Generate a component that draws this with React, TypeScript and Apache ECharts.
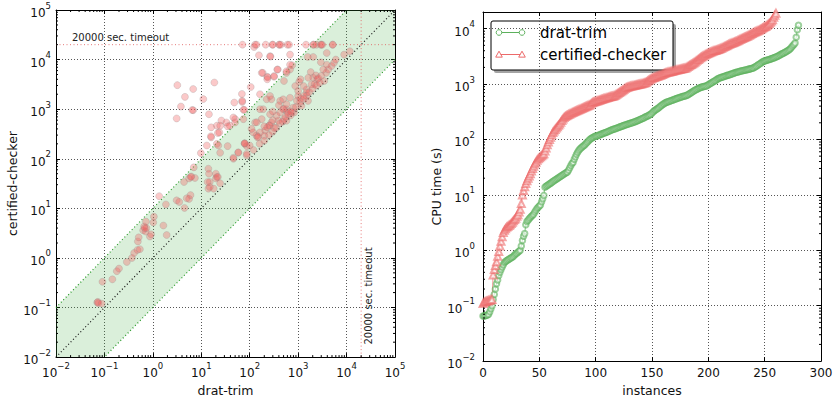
import React, { useEffect, useRef } from "react";
import * as echarts from "echarts";

const FONT = "DejaVu Sans";
const AXIS_MIN = 0.01;
const AXIS_MAX = 1e5;
const TIMEOUT = 20000;
const CACTUS_Y_MAX = 20000;
const CACTUS_X_MAX = 300;

// scatter: [drat-trim, certified-checker] seconds
const scatterPoints: [number, number][] = [
  [0.071,0.126],[0.073,0.13],[0.075,0.122],[0.088,0.12],[0.091,0.33],[0.146,0.37],[0.18,0.54],[0.2,0.61],[0.29,0.83],[0.37,1.0],
  [0.41,1.26],[0.48,1.45],[0.54,1.5],[0.49,2.15],[0.51,2.6],[0.87,2.7],[0.92,3.0],[0.63,3.6],[0.71,3.4],[0.74,4.0],
  [0.66,4.3],[0.68,4.0],[0.72,5.4],[1.02,5.2],[1.05,6.8],[1.65,4.5],[1.93,2.9],[1.35,17.6],[1.86,12],[3.1,14.5],
  [3.5,13.5],[5.6,15.5],[4.5,10.2],[4.4,34],[5.6,40],[6.2,44],[7.4,41],[7,67],[9.8,130],[14,63],
  [14.4,50],[15,34],[14,25],[18,25],[21,43],[20,40],[24.5,32],[16,270],[21,465],[6.8,955],
  [3.1,650],[14.4,790],[6,18.5],[5,16],
  [3.2,3050],[18.6,3450],[6.8,2550],[4.6,1770],[11,1600],[3.8,1130],[6.5,960],[26,590],[24.6,465],[23.6,340],
  [33,540],[39,465],[50,630],[21,200],[35,180],[24.5,132],[46,100],[58,132],[79,200],[87,180],
  [20,50],[22,43],[13.5,34],[15,27],[6.1,43],[16,430],[35,450],[46,680],[13,185],[22.5,185],
  [15.8,284],[22,330],[78,205],[87,117],[87,126],
  [105,2800],[69,2030],[48,1360],[70,1400],[74,970],[77,970],[186,5400],[163,2000],[70,1470],
  [123,17900],[155,12200],[263,11700],[268,11500],[680,12600],[755,7700],[680,6300],[575,5400],[380,6300],[318,4500],
  [230,4500],[235,4400],[177,5400],[230,4000],[510,3700],[1050,3560],[1120,4000],[1300,2930],[1500,2500],[1500,2150],
  [1820,5600],[2050,4300],[2330,4800],[2500,4000],[3460,3700],[3800,5400],[4200,6300],[4900,7400],[5500,8600],[6000,10000],
  [3900,7900],[3300,6300],[2950,8800],[2050,11300],[1580,11300],[3900,13600],[8900,12600],[11700,14700],
  [940,1470],[1000,1850],[1120,1640],[1600,1470],[1500,1850],[1170,1170],[790,1080],[575,1000],[830,860],[740,860],
  [490,1000],[500,1020],[425,860],[510,630],[575,585],[360,740],[263,790],[390,585],[280,540],[252,465],
  [258,475],[208,370],[230,430],[163,340],[138,293],[145,270],[150,278],[118,340],[109,400],[100,185],
  [79,205],[58,135],[46,105],[50,540],[74,630],[190,1000],[163,1000],[177,630],[129,540],[140,545],
  [224,1580],[280,1580],[263,1850],[425,1470],[490,1580],[575,1260],[680,1700],[870,2930],[1000,2330],[1300,1850],
  [1900,3160],[1620,4300],[318,4650],[370,6300],[680,7900],[575,5830],[2200,3200],[2600,4200],[3000,4700],[600,880],
  [700,750],[320,420],[200,290],[400,1200],[300,900],
  [120,150],[160,200],[200,230],[250,300],[300,350],[350,420],[420,520],[480,560],[550,700],[620,800],
  [700,900],[900,1100],[1100,1400],[1300,1600],[1700,2200],[2000,2600],[2400,3000],[2800,3400],[200,450],[300,600],
  [71,20000],[129,20000],[138,20000],[214,20000],[295,20000],[300,20000],[405,20000],[410,20000],[440,20000],[600,20000],
  [650,20000],[1450,20000],[2040,20000],[2100,20000],[2400,20000],[2950,20000],[3000,20000],[3150,20000],[5150,20000],[5200,20000],
];

// cactus: sorted CPU times (s)
const dratTrimTimes: number[] = [
  0.065,0.065,0.066,0.067,0.068,0.07,0.078,0.088,0.1,0.13,
  0.16,0.2,0.25,0.29,0.35,0.4,0.45,0.5,0.55,0.6,
  0.63,0.65,0.67,0.69,0.71,0.73,0.75,0.78,0.82,0.86,
  0.88,0.92,0.96,1.0,1.2,1.5,1.8,2.0,2.9,3.3,
  3.5,3.7,3.9,4.1,4.3,4.5,4.9,5.3,5.7,6.0,
  6.3,6.6,7.5,8.5,9.8,13.8,14.3,14.8,15.3,15.8,
  16.3,16.8,17.4,18,18.6,19.2,19.8,20.4,21,21.7,
  22.4,23.1,23.8,24.6,25.3,26,28,31,34,37,
  39,44,49,54,59,63,67,70,73,76,
  79,83,87,91,96,101,104,107,110,113,
  115,116,118,120,122,125,127,129,132,134,
  136,139,142,145,148,151,153,156,158,161,
  164,167,170,173,176,179,182,185,188,191,
  194,197,200,202,206,210,214,218,222,227,
  232,237,242,248,254,260,266,272,279,285,
  300,315,330,340,350,362,375,390,405,420,
  435,448,462,470,478,486,495,503,512,521,
  530,540,549,558,567,576,585,594,602,610,
  618,630,645,665,685,705,725,748,770,790,
  810,830,850,865,880,893,905,915,922,940,
  970,1000,1030,1060,1090,1120,1150,1190,1230,1260,
  1290,1310,1330,1350,1370,1395,1420,1440,1460,1480,
  1500,1530,1560,1590,1610,1630,1650,1670,1700,1720,
  1740,1760,1780,1800,1820,1840,1860,1880,1910,1935,
  1960,2010,2070,2130,2200,2270,2340,2420,2500,2580,
  2620,2660,2700,2740,2780,2820,2870,2920,2970,3020,
  3080,3150,3220,3300,3400,3480,3560,3650,3740,3840,
  3950,4070,4200,4400,4650,4900,5200,5500,7000,9600,
  11500,
];

const certifiedTimes: number[] = [
  0.11,0.115,0.118,0.12,0.122,0.124,0.126,0.128,0.13,0.36,
  0.45,0.53,0.62,0.78,0.95,1.2,1.45,1.75,2.1,2.3,
  2.45,2.6,2.7,2.8,2.9,3.05,3.2,3.4,3.6,3.8,
  4.1,4.4,4.9,5.5,7,10,12,14,16,18,
  20,22,24,27,30,33,36,39,42,45,
  47,49,51,53,55,62,70,80,90,100,
  110,122,134,143,152,161,170,180,190,205,
  220,235,250,260,268,275,282,289,296,303,
  310,317,324,331,338,345,350,358,366,374,
  382,390,398,406,414,422,440,462,470,478,
  486,494,502,510,518,526,534,542,550,558,
  566,574,582,590,598,604,610,625,645,665,
  685,705,725,750,775,800,830,860,875,890,
  900,910,920,930,940,950,960,970,980,990,
  1000,1015,1030,1045,1060,1080,1120,1160,1200,1240,
  1270,1300,1320,1340,1365,1390,1415,1440,1465,1490,
  1520,1555,1590,1610,1630,1650,1670,1690,1710,1730,
  1750,1770,1790,1810,1830,1850,1870,1890,1910,1935,
  1960,2020,2080,2140,2200,2260,2330,2400,2480,2580,
  2680,2780,2880,2980,3080,3170,3260,3350,3440,3530,
  3610,3690,3770,3850,3930,4000,4050,4100,4150,4200,
  4300,4400,4500,4600,4700,4800,4920,5040,5160,5280,
  5400,5500,5600,5700,5800,5900,6050,6200,6350,6500,
  6650,6800,6950,7100,7250,7400,7600,7800,8000,8200,
  8400,8600,8800,9000,9200,9400,9650,9900,10200,10500,
  10800,11000,11400,11900,12400,13000,13700,14500,16000,17500,
  19000,
];

const seriesNames = ["drat-trim", "certified-checker"];
const GREEN = "#5cb05c";
const RED = "#ec6a6a";

const logLabel = (v: number) => {
  const e = Math.log10(v);
  const r = Math.round(e);
  if (Math.abs(e - r) > 1e-6) return "";
  return `{b|10}{e|${r < 0 ? "\u2212" + -r : r}}`;
};
const rich = {
  b: { fontSize: 12, lineHeight: 18, verticalAlign: "bottom", fontFamily: FONT, color: "#111" },
  e: { fontSize: 8.5, lineHeight: 9, verticalAlign: "top", fontFamily: FONT, color: "#111" },
};

const minorLeft: number[] = [];
for (let p = -2; p < 5; p++) for (let k = 2; k <= 9; k++) minorLeft.push(k * Math.pow(10, p));
const minorRight: number[] = [];
for (let p = -2; p < 5; p++) for (let k = 2; k <= 9; k++) {
  const v = k * Math.pow(10, p);
  if (v < CACTUS_Y_MAX) minorRight.push(v);
}

const grid = { dotted: [1, 2] as number[] };

export default function App() {
  const ref = useRef<HTMLDivElement>(null);
  useEffect(() => {
    if (!ref.current) return;
    const chart = echarts.init(ref.current, undefined, { renderer: "svg" });

    const frameAxis = (type: string, pos: string, gridIndex: number, extra: any) => ({
      type, position: pos, gridIndex, ...extra,
      axisLine: { show: true, onZero: false, lineStyle: { color: "#000", width: 1 } },
      axisTick: { show: true, inside: true, length: 4, lineStyle: { color: "#000" } },
      axisLabel: { show: false },
      splitLine: { show: false },
    });

    const mainLogAxis = (pos: string, gridIndex: number, min: number, max: number, margin: number, name: string, nameGap: number) => ({
      type: "log", logBase: 10, min, max, position: pos, gridIndex,
      name, nameLocation: "middle", nameGap,
      nameTextStyle: { fontFamily: FONT, fontSize: 12.5, color: "#111" },
      axisLine: { show: true, onZero: false, lineStyle: { color: "#000", width: 1 } },
      axisTick: { show: true, inside: true, length: 4, lineStyle: { color: "#000" } },
      axisLabel: { formatter: logLabel, rich, margin, fontFamily: FONT },
      splitLine: { show: true, lineStyle: { color: "#555", type: grid.dotted, width: 1 } },
    });

    const minorTickRender = (isLeft: boolean) => (params: any, api: any) => {
      const cs = params.coordSys;
      const v = api.value(1);
      const st = { stroke: "#000", lineWidth: 1 };
      const L = 2;
      const py = api.coord([isLeft ? AXIS_MIN : 0, v])[1];
      const children: any[] = [
        { type: "line", shape: { x1: cs.x, y1: py, x2: cs.x + L, y2: py }, style: st },
        { type: "line", shape: { x1: cs.x + cs.width, y1: py, x2: cs.x + cs.width - L, y2: py }, style: st },
      ];
      if (isLeft) {
        const px = api.coord([api.value(0), AXIS_MIN])[0];
        children.push(
          { type: "line", shape: { x1: px, y1: cs.y + cs.height, x2: px, y2: cs.y + cs.height - L }, style: st },
          { type: "line", shape: { x1: px, y1: cs.y, x2: px, y2: cs.y + L }, style: st },
        );
      }
      return { type: "group", children };
    };

    const bandVertices = [
      [AXIS_MIN, AXIS_MIN * 10], [AXIS_MAX / 10, AXIS_MAX], [AXIS_MAX, AXIS_MAX],
      [AXIS_MAX, AXIS_MAX / 10], [AXIS_MIN * 10, AXIS_MIN], [AXIS_MIN, AXIS_MIN],
    ];

    const dotted = (color: string) => ({ color, width: 1.2, type: [1, 2.5] as number[] });

    const triangle = (cx: number, cy: number, s: number) => ({
      type: "polygon",
      shape: { points: [[cx, cy - s], [cx - s, cy + s * 0.8], [cx + s, cy + s * 0.8]] },
      style: { fill: "#fff", stroke: RED, lineWidth: 1 },
    });

    chart.setOption({
      animation: false,
      textStyle: { fontFamily: FONT },
      grid: [
        { left: 56, top: 10, width: 339, height: 350 },
        { left: 483, top: 12, width: 338, height: 351 },
      ],
      xAxis: [
        mainLogAxis("bottom", 0, AXIS_MIN, AXIS_MAX, 4, "drat-trim", 20),
        frameAxis("log", "top", 0, { min: AXIS_MIN, max: AXIS_MAX, logBase: 10 }),
        {
          type: "value", gridIndex: 1, min: 0, max: CACTUS_X_MAX, interval: 50, position: "bottom",
          name: "instances", nameLocation: "middle", nameGap: 21,
          nameTextStyle: { fontFamily: FONT, fontSize: 12.5, color: "#111" },
          axisLine: { show: true, onZero: false, lineStyle: { color: "#000", width: 1 } },
          axisTick: { show: true, inside: true, length: 4, lineStyle: { color: "#000" } },
          axisLabel: { fontFamily: FONT, fontSize: 12, color: "#111", margin: 6 },
          splitLine: { show: true, lineStyle: { color: "#555", type: grid.dotted, width: 1 } },
        },
        frameAxis("value", "top", 1, { min: 0, max: CACTUS_X_MAX, interval: 50 }),
      ],
      yAxis: [
        mainLogAxis("left", 0, AXIS_MIN, AXIS_MAX, 5, "certified-checker", 31),
        frameAxis("log", "right", 0, { min: AXIS_MIN, max: AXIS_MAX, logBase: 10 }),
        mainLogAxis("left", 1, AXIS_MIN, CACTUS_Y_MAX, 8, "CPU time (s)", 36),
        frameAxis("log", "right", 1, { min: AXIS_MIN, max: CACTUS_Y_MAX, logBase: 10 }),
      ],
      series: [
        {
          type: "custom", xAxisIndex: 0, yAxisIndex: 0, silent: true, z: 1,
          data: [[1, 1]],
          renderItem: (_p: any, api: any) => ({
            type: "polygon",
            shape: { points: bandVertices.map((p) => api.coord(p)) },
            style: { fill: "rgba(60,170,60,0.19)", stroke: "none" },
          }),
        },
        {
          type: "line", xAxisIndex: 0, yAxisIndex: 0, silent: true, showSymbol: false, z: 2,
          data: [[AXIS_MIN, AXIS_MIN], [AXIS_MAX, AXIS_MAX]], lineStyle: dotted("#111"),
        },
        {
          type: "line", xAxisIndex: 0, yAxisIndex: 0, silent: true, showSymbol: false, z: 2,
          data: [bandVertices[0], bandVertices[1]], lineStyle: dotted("#2a9a2a"),
        },
        {
          type: "line", xAxisIndex: 0, yAxisIndex: 0, silent: true, showSymbol: false, z: 2,
          data: [bandVertices[3], bandVertices[4]], lineStyle: dotted("#2a9a2a"),
        },
        {
          type: "line", xAxisIndex: 0, yAxisIndex: 0, silent: true, showSymbol: false, z: 2,
          data: [[AXIS_MIN, TIMEOUT], [AXIS_MAX, TIMEOUT]], lineStyle: { color: "rgba(225,90,90,0.8)", width: 1, type: [1, 2.5] },
        },
        {
          type: "line", xAxisIndex: 0, yAxisIndex: 0, silent: true, showSymbol: false, z: 2,
          data: [[TIMEOUT, AXIS_MIN], [TIMEOUT, AXIS_MAX]], lineStyle: { color: "rgba(225,90,90,0.8)", width: 1, type: [1, 2.5] },
        },
        {
          type: "scatter", xAxisIndex: 0, yAxisIndex: 0, z: 3,
          data: scatterPoints, symbolSize: 7,
          itemStyle: { color: "rgba(242,95,95,0.42)", borderColor: "rgba(140,140,140,0.3)", borderWidth: 1 },
        },
        {
          type: "custom", xAxisIndex: 0, yAxisIndex: 0, silent: true, z: 4,
          data: minorLeft.map((v) => [v, v]), renderItem: minorTickRender(true),
        },
        {
          name: seriesNames[0], type: "line", xAxisIndex: 2, yAxisIndex: 2, z: 3,
          data: dratTrimTimes.map((t, i) => [i, t]),
          symbol: "emptyCircle", symbolSize: 5.5, showSymbol: true,
          lineStyle: { color: GREEN, width: 1, opacity: 0.7 },
          itemStyle: { color: GREEN, borderColor: GREEN, borderWidth: 1, opacity: 0.6 },
        },
        {
          name: seriesNames[1], type: "line", xAxisIndex: 2, yAxisIndex: 2, z: 3,
          data: certifiedTimes.map((t, i) => [i, t]),
          symbol: "emptyTriangle", symbolSize: 7, showSymbol: true,
          lineStyle: { color: RED, width: 1, opacity: 0.7 },
          itemStyle: { color: RED, borderColor: RED, borderWidth: 1, opacity: 0.6 },
        },
        {
          type: "custom", xAxisIndex: 2, yAxisIndex: 2, silent: true, z: 4,
          data: minorRight.map((v) => [150, v]), renderItem: minorTickRender(false),
        },
      ],
      graphic: [
        {
          type: "text", x: 72, y: 37, silent: true,
          style: { text: "20000 sec. timeout", fontSize: 10, fontFamily: FONT, fill: "#222", verticalAlign: "middle" },
        },
        {
          type: "text", x: 368, y: 296, rotation: Math.PI / 2, silent: true,
          style: { text: "20000 sec. timeout", fontSize: 10, fontFamily: FONT, fill: "#222", align: "center", verticalAlign: "middle" },
        },
        {
          type: "group", z: 100, children: [
            { type: "rect", shape: { x: 494, y: 24, width: 182, height: 49, r: 2 }, style: { fill: "rgba(90,90,90,0.55)" } },
            { type: "rect", shape: { x: 491, y: 21, width: 182, height: 49, r: 2 }, style: { fill: "#fff", stroke: "#000", lineWidth: 1 } },
            { type: "line", shape: { x1: 499, y1: 32.5, x2: 522, y2: 32.5 }, style: { stroke: GREEN, lineWidth: 1 } },
            { type: "circle", shape: { cx: 499, cy: 32.5, r: 2.8 }, style: { fill: "#fff", stroke: GREEN, lineWidth: 1 } },
            { type: "circle", shape: { cx: 522, cy: 32.5, r: 2.8 }, style: { fill: "#fff", stroke: GREEN, lineWidth: 1 } },
            { type: "text", x: 540, y: 33, style: { text: seriesNames[0], fontSize: 15, fontFamily: FONT, fill: "#000", verticalAlign: "middle" } },
            { type: "line", shape: { x1: 499, y1: 54.5, x2: 522, y2: 54.5 }, style: { stroke: RED, lineWidth: 1 } },
            triangle(499, 54.5, 3.3),
            triangle(522, 54.5, 3.3),
            { type: "text", x: 540, y: 55, style: { text: seriesNames[1], fontSize: 15, fontFamily: FONT, fill: "#000", verticalAlign: "middle" } },
          ],
        },
      ],
    });
    return () => chart.dispose();
  }, []);
  return <div ref={ref} style={{ width: 836, height: 402, position: "absolute", left: 0, top: 0 }} />;
}
